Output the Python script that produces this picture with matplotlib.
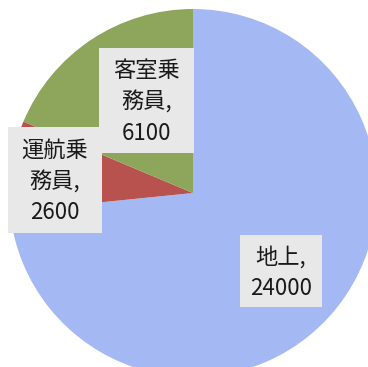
import matplotlib
matplotlib.use("Agg")
import matplotlib.pyplot as plt
import matplotlib.patches as mpatches

plt.rcParams['font.family'] = ['Noto Sans CJK JP', 'DejaVu Sans']

# data
labels = ["地上", "運航乗\n務員", "客室乗\n務員"]
values = [24000, 2600, 6100]
colors = ["#A4B9F4", "#B8524E", "#8DA65C"]

# label box layout (data coords, unit radius): center x, center y, width, height
box_layout = [
    (0.478, -0.424, 0.445, 0.393),
    (-0.750, 0.071, 0.513, 0.580),
    (-0.255, 0.505, 0.516, 0.571),
]

W, H = 368, 367
cx, cy, R = 193, 193, 184   # pie centre / radius in pixels

fig = plt.figure(figsize=(W / 100, H / 100), dpi=100)
ax = fig.add_axes([0, 0, 1, 1])
ax.set_aspect("equal")
ax.axis("off")

ax.pie(values, colors=colors, startangle=90, counterclock=False,
       radius=1, center=(0, 0), wedgeprops=dict(linewidth=0))
ax.set_xlim(-cx / R, (W - cx) / R)
ax.set_ylim(-(H - cy) / R, cy / R)

for lab, val, (bx, by, bw, bh) in zip(labels, values, box_layout):
    rect = mpatches.Rectangle((bx - bw / 2, by - bh / 2), bw, bh,
                              facecolor="#E8E8E8", edgecolor="none", zorder=3)
    ax.add_patch(rect)
    ax.text(bx, by - 0.01, f"{lab},\n{val}", ha="center", va="center",
            fontsize=16, color="#1A1A1A", linespacing=1.45, zorder=4)

fig.savefig("out.png", dpi=100)
